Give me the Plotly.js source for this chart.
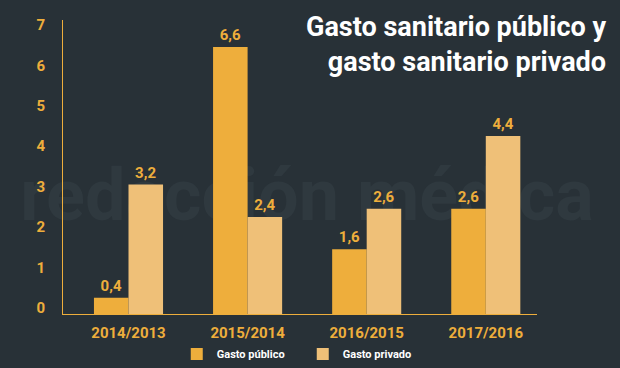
<!DOCTYPE html>
<html>
<head>
<meta charset="utf-8">
<script src="https://cdn.plot.ly/plotly-3.0.1.min.js"></script>
<style>html,body{margin:0;padding:0;background:#283137;}#chart{width:620px;height:368px;}</style>
</head>
<body>
<div id="chart"></div>
<script>
const categories = ['2014/2013', '2015/2014', '2016/2015', '2017/2016'];
const gastoPublico = [0.4, 6.6, 1.6, 2.6];
const gastoPrivado = [3.2, 2.4, 2.6, 4.4];
const seriesNames = ['Gasto público', 'Gasto privado'];
const titleText = 'Gasto sanitario público y<br>gasto sanitario privado';
const watermark = 'redacción médica';

const fmt = v => v.toFixed(1).replace('.', ',');
const orange = '#EEAE3C';
const light = '#EFC078';
const labelFont = {family: 'Roboto, sans-serif', size: 15, color: orange, weight: 700};

const traces = [
  {type: 'bar', name: seriesNames[0], x: categories, y: gastoPublico, marker: {color: orange},
   text: gastoPublico.map(fmt), textposition: 'outside', textfont: labelFont, cliponaxis: false, hoverinfo: 'none'},
  {type: 'bar', name: seriesNames[1], x: categories, y: gastoPrivado, marker: {color: light},
   text: gastoPrivado.map(fmt), textposition: 'outside', textfont: labelFont, cliponaxis: false, hoverinfo: 'none'}
];

const layout = {
  width: 620, height: 368,
  paper_bgcolor: '#283137', plot_bgcolor: 'rgba(0,0,0,0)',
  margin: {l: 63, r: 83, t: 20, b: 54, autoexpand: false},
  barmode: 'group', bargap: 0.42, bargroupgap: 0,
  showlegend: true,
  legend: {orientation: 'h', x: 0.24, y: -0.087, xanchor: 'left', yanchor: 'top',
    font: {family: 'Roboto, sans-serif', size: 11, color: '#FFFFFF', weight: 700},
    itemwidth: 30, tracegroupgap: 0, entrywidth: 81},
  xaxis: {type: 'category', range: [-0.55, 3.43], showgrid: false, zeroline: false,
    showline: true, linecolor: orange, linewidth: 1, ticks: '', ticklabelstandoff: 5,
    tickfont: {family: 'Roboto, sans-serif', size: 15, color: orange, weight: 700}, fixedrange: true},
  yaxis: {range: [0, 7.27], dtick: 1, showgrid: false, zeroline: false,
    showline: true, linecolor: orange, linewidth: 1, ticks: '',
    ticklabelshift: -6, ticklabelstandoff: 14,
    tickfont: {family: 'Roboto, sans-serif', size: 15, color: orange, weight: 700}, fixedrange: true},
  shapes: [
    {type: 'rect', layer: 'below', xref: 'paper', yref: 'paper', x0: 0.28, x1: 0.75, y0: 0.3, y1: 0.54,
     line: {width: 0}, fillcolor: 'rgba(0,0,0,0)',
     label: {text: watermark, textposition: 'middle center',
       font: {family: 'Roboto, sans-serif', size: 72, color: '#2F393F', weight: 700}}}
  ],
  annotations: [
    {text: titleText, xref: 'paper', yref: 'paper', x: 1.15, y: 1.037, xanchor: 'right', yanchor: 'top', align: 'right',
     showarrow: false, font: {family: 'Roboto, sans-serif', size: 27, color: '#FFFFFF', weight: 700}}
  ]
};

Plotly.newPlot('chart', traces, layout, {displayModeBar: false, staticPlot: true});
</script>
</body>
</html>
